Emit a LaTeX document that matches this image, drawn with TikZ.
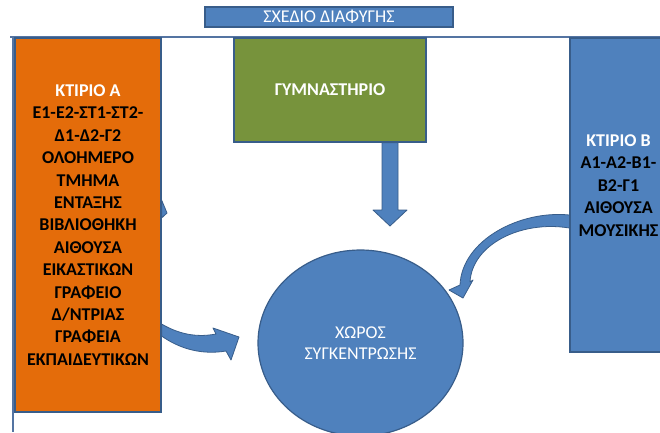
\documentclass[tikz,border=0pt]{standalone}
\usepackage{fontspec}
\setmainfont{Carlito}
\usetikzlibrary{shapes.geometric,calc}
\definecolor{boxblue}{RGB}{79,129,189}
\definecolor{edgeblue}{RGB}{56,93,138}
\definecolor{frameblue}{RGB}{84,116,162}
\definecolor{boxorange}{RGB}{228,108,10}
\definecolor{boxgreen}{RGB}{119,147,60}

\begin{document}
\begin{tikzpicture}[x=1pt,y=-1pt,
    box/.style={draw=edgeblue, line width=1.2pt, inner sep=0pt, align=center},
    plainfont/.style={font=\fontsize{18}{21.5}\selectfont},
    boldfont/.style={font=\fontsize{18}{22.4}\selectfont\bfseries},
    blockarrow/.style={fill=boxblue, draw=edgeblue, line width=0.8pt, line join=round}]
    \clip (0,0) rectangle (660,432);
    \fill[white] (0,0) rectangle (660,432);
    % title and frame
    \node[box, fill=boxblue, text=white, minimum width=248pt, minimum height=20pt, plainfont] (title) at (329,17) {ΣΧΕΔΙΟ ΔΙΑΦΥΓΗΣ};
    \draw[frameblue, line width=1.5pt] (10,37) -- (660,37);
    \draw[frameblue, line width=1.5pt] (13,37) -- (13,432);
    % buildings
    \node[box, fill=boxorange, minimum width=146pt, minimum height=374pt, boldfont] (bldgA) at (88,225)
        {\textcolor{white}{ΚΤΙΡΙΟ Α}\\Ε1-Ε2-ΣΤ1-ΣΤ2-\\Δ1-Δ2-Γ2\\ΟΛΟΗΜΕΡΟ\\ΤΜΗΜΑ\\ΕΝΤΑΞΗΣ\\ΒΙΒΛΙΟΘΗΚΗ\\ΑΙΘΟΥΣΑ\\ΕΙΚΑΣΤΙΚΩΝ\\ΓΡΑΦΕΙΟ\\Δ/ΝΤΡΙΑΣ\\ΓΡΑΦΕΙΑ\\ΕΚΠΑΙΔΕΥΤΙΚΩΝ};
    \node[box, fill=boxgreen, minimum width=192pt, minimum height=104pt, boldfont, text=white] (gym) at (330,90) {ΓΥΜΝΑΣΤΗΡΙΟ};
    \node[box, fill=boxblue, minimum width=97pt, minimum height=314pt] (bldgB) at (618.5,195) {};
    \node[boldfont, align=center, inner sep=0pt] (bldgBtext) at (618.5,185.5)
        {\textcolor{white}{ΚΤΙΡΙΟ Β}\\Α1-Α2-Β1-\\Β2-Γ1\\ΑΙΘΟΥΣΑ\\ΜΟΥΣΙΚΗΣ};
    % meeting point
    \node[ellipse, draw=edgeblue, line width=1.2pt, fill=boxblue, minimum width=205pt, minimum height=186pt,
        inner sep=0pt, text=white, align=center, plainfont] (meet) at (360.5,343) {ΧΩΡΟΣ\\ΣΥΓΚΕΝΤΡΩΣΗΣ};
    % arrows
    \draw[blockarrow] ($(bldgA.east)+(0,-25)$) -- (167,213) -- ($(bldgA.east)+(0,-7)$) -- cycle;
    \draw[blockarrow] ($(bldgA.east)+(0,99)$) .. controls (182,336) and (200,337) .. (216,334)
        -- (213,328) -- (239,337) -- (231,360) -- (226,351)
        .. controls (202,355) and (180,349) .. ($(bldgA.east)+(0,111)$) -- cycle;
    \draw[blockarrow] ($(gym.south)+(52,0)$) -- (382,210) -- (373,210) -- (390,226)
        -- (407,210) -- (398,210) -- ($(gym.south)+(68,0)$) -- cycle;
    \draw[blockarrow] ($(bldgB.west)+(0,20)$) .. controls (520,210) and (462,240) .. (460,285)
        -- (449,290) -- (463,298) -- (473,280) -- (470,282)
        .. controls (472,245) and (520,220) .. ($(bldgB.west)+(0,33)$) -- cycle;
\end{tikzpicture}
\end{document}
